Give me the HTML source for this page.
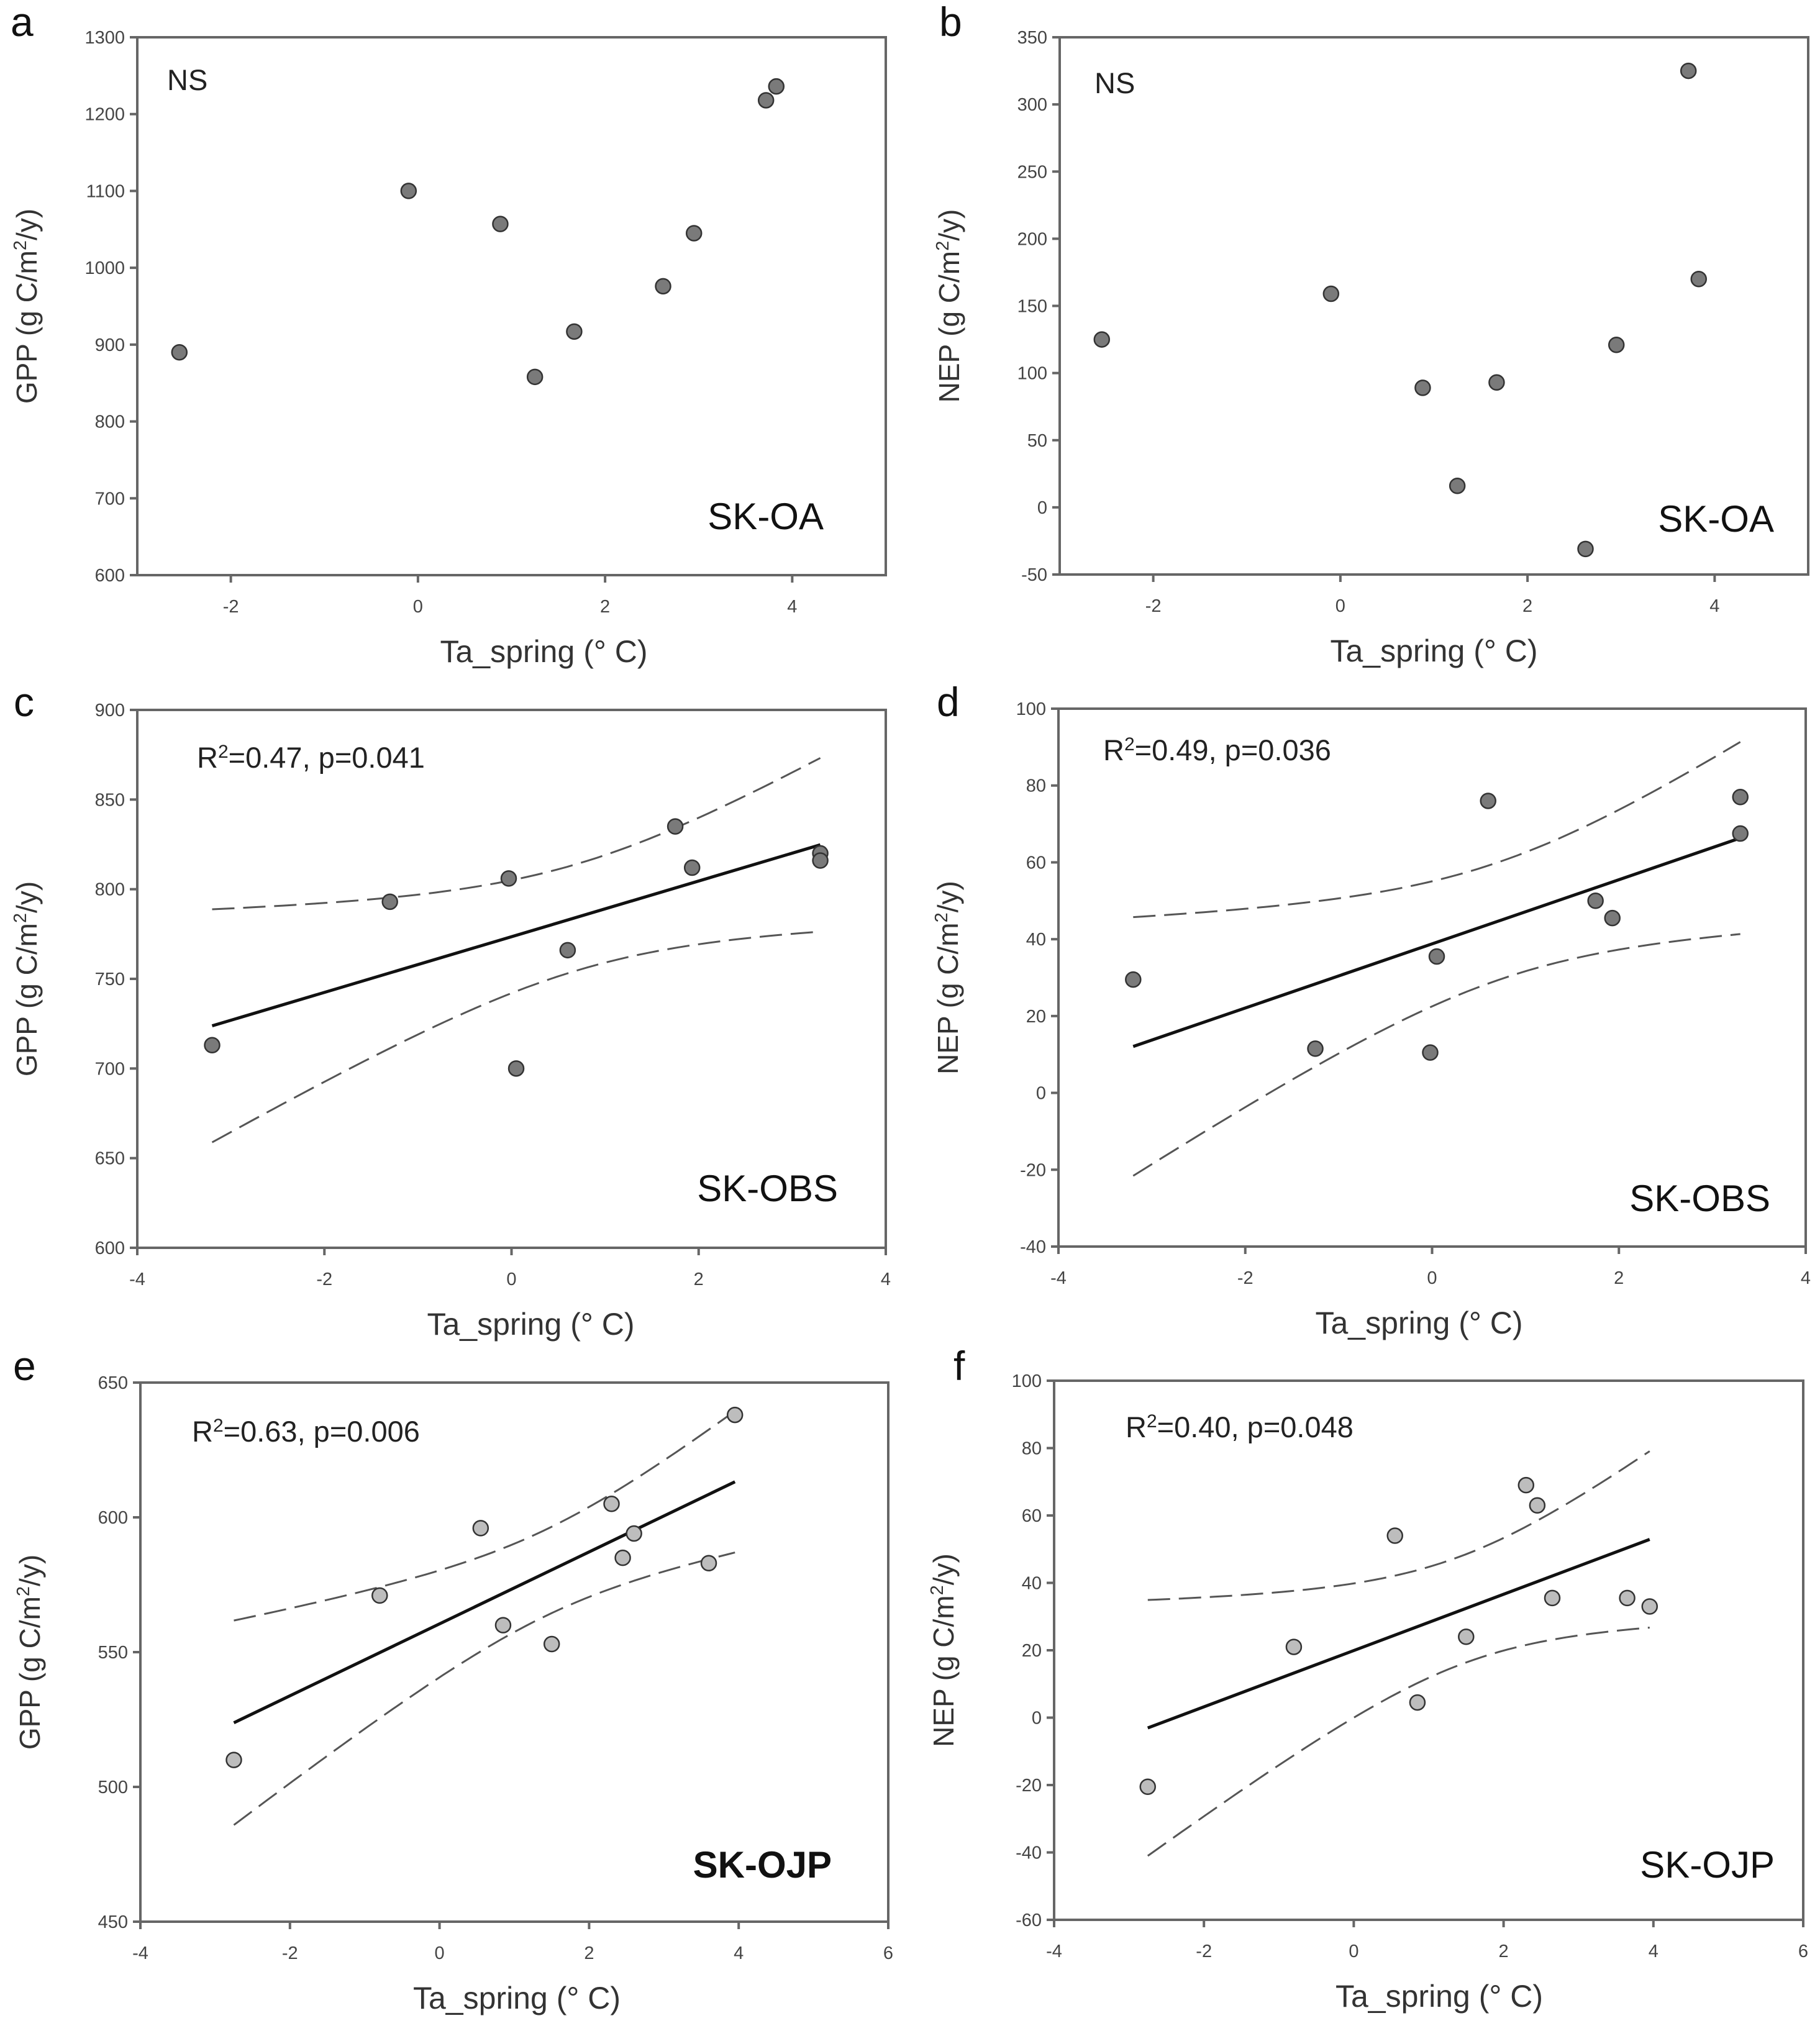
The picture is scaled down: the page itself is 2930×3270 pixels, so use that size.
<!DOCTYPE html>
<html><head><meta charset="utf-8"><style>
html,body{margin:0;padding:0;background:#fff;}
svg{display:block;font-family:"Liberation Sans",Arial,sans-serif;}
</style></head><body>
<svg id="fig" width="2930" height="3270" viewBox="0 0 2930 3270" xmlns="http://www.w3.org/2000/svg"></svg>
<script>
// ---- data ----
const xA = [-2.55,-0.1,0.88,1.25,1.67,2.62,2.95,3.72,3.83];
const gppA = [890,1100,1057,858,917,976,1045,1218,1236];
const xB = [-2.55,-0.1,0.88,1.25,1.67,2.62,2.95,3.72,3.83];
const nepB = [125,159,89,16,93,-31,121,325,170];
const xC = [-3.2,-1.3,-0.03,0.05,0.6,1.75,1.93,3.3,3.3];
const gppC = [713,793,806,700,766,835,812,820,816];
const xD = [-3.2,-1.25,-0.02,0.05,0.6,1.75,1.93,3.3,3.3];
const nepD = [29.5,11.5,10.5,35.5,76,50,45.5,77,67.5];
const xE = [-2.75,-0.8,0.55,0.85,1.5,2.3,2.45,2.6,3.6,3.95];
const gppE = [510,571,596,560,553,605,585,594,583,638];
const xF = [-2.75,-0.8,0.55,0.85,1.5,2.3,2.45,2.65,3.65,3.95];
const nepF = [-20.5,21,54,4.5,24,69,63,35.5,35.5,33];
const xTicksAB = [-2,0,2,4];
const xTicksCD = [-4,-2,0,2,4];
const xTicksEF = [-4,-2,0,2,4,6];
const yTicksA = [600,700,800,900,1000,1100,1200,1300];
const yTicksB = [-50,0,50,100,150,200,250,300,350];
const yTicksC = [600,650,700,750,800,850,900];
const yTicksD = [-40,-20,0,20,40,60,80,100];
const yTicksE = [450,500,550,600,650];
const yTicksF = [-60,-40,-20,0,20,40,60,80,100];

const NS='http://www.w3.org/2000/svg';
const svg=document.getElementById('fig');
function mk(tag,attrs,parent){const e=document.createElementNS(NS,tag);for(const k in attrs)e.setAttribute(k,attrs[k]);(parent||svg).appendChild(e);return e;}

const panels=[
 {id:'a',L:221,T:60,R:1426,B:926,x0:-3,x1:5,y0:600,y1:1300,xs:xA,ys:gppA,xt:xTicksAB,yt:yTicksA,yl:'GPP',fill:'#7a7a7a',fit:false,
  note:'NS',nx:269,ny:145,site:'SK-OA',sx:1326,sy:852,lx:17,ly:58,xo:52},
 {id:'b',L:1706,T:60,R:2911,B:925,x0:-3,x1:5,y0:-50,y1:350,xs:xB,ys:nepB,xt:xTicksAB,yt:yTicksB,yl:'NEP',fill:'#7a7a7a',fit:false,
  note:'NS',nx:1762,ny:150,site:'SK-OA',sx:2856,sy:856,lx:1512,ly:58,xo:0},
 {id:'c',L:221,T:1143,R:1426,B:2009,x0:-4,x1:4,y0:600,y1:900,xs:xC,ys:gppC,xt:xTicksCD,yt:yTicksC,yl:'GPP',fill:'#7a7a7a',fit:true,
  r2:'0.47',p:'0.041',nx:317,ny:1236,site:'SK-OBS',sx:1349,sy:1934,lx:22,ly:1153,xo:31},
 {id:'d',L:1704,T:1141,R:2907,B:2007,x0:-4,x1:4,y0:-40,y1:100,xs:xD,ys:nepD,xt:xTicksCD,yt:yTicksD,yl:'NEP',fill:'#7a7a7a',fit:true,
  r2:'0.49',p:'0.036',nx:1776,ny:1224,site:'SK-OBS',sx:2850,sy:1950,lx:1508,ly:1153,xo:-21},
 {id:'e',L:226,T:2226,R:1430,B:3094,x0:-4,x1:6,y0:450,y1:650,xs:xE,ys:gppE,xt:xTicksEF,yt:yTicksE,yl:'GPP',fill:'#bdbdbd',fit:true,
  r2:'0.63',p:'0.006',nx:309,ny:2321,site:'SK-OJP',sx:1339,sy:3023,lx:21,ly:2222,bold:true,xo:4},
 {id:'f',L:1697,T:2223,R:2903,B:3091,x0:-4,x1:6,y0:-60,y1:100,xs:xF,ys:nepF,xt:xTicksEF,yt:yTicksF,yl:'NEP',fill:'#bdbdbd',fit:true,
  r2:'0.40',p:'0.048',nx:1812,ny:2314,site:'SK-OJP',sx:2857,sy:3023,lx:1535,ly:2222,xo:17}
];

panels.forEach(P=>{
 const g=mk('g',{});
 
 
 const sx=v=>P.L+(v-P.x0)/(P.x1-P.x0)*(P.R-P.L);
 const sy=v=>P.B-(v-P.y0)/(P.y1-P.y0)*(P.B-P.T);
 const fr=mk('rect',{x:P.L,y:P.T,width:P.R-P.L,height:P.B-P.T,fill:'none',stroke:'#666','stroke-width':4},g);
 
 
 P.xt.forEach(v=>{
  const x=sx(v);
  mk('line',{x1:x,y1:P.B,x2:x,y2:P.B+12,stroke:'#666','stroke-width':4},g);
  const t=mk('text',{x:x,y:P.B+60,'font-size':29,fill:'#444','text-anchor':'middle'},g);
  t.textContent=v;
  
  
 });
 P.yt.forEach(v=>{
  const y=sy(v);
  mk('line',{x1:P.L-12,y1:y,x2:P.L,y2:y,stroke:'#666','stroke-width':4},g);
  const t=mk('text',{x:P.L-20,y:y+10,'font-size':29,fill:'#444','text-anchor':'end'},g);
  t.textContent=v;
  
  
 });
 const xt=mk('text',{x:(P.L+P.R)/2+P.xo,y:P.B+140,'font-size':50,fill:'#333','text-anchor':'middle'},g);
 xt.textContent='Ta_spring (°  C)';
 
 
 const cy=(P.T+P.B)/2, cxp=P.L-162;
 const yt=mk('text',{x:cxp,y:cy,'font-size':46,fill:'#333','text-anchor':'middle',transform:`rotate(-90 ${cxp} ${cy})`},g);
 yt.innerHTML=P.yl+' (g C/m<tspan dy="-17" font-size="29">2</tspan><tspan dy="17">/y)</tspan>';
 
 
 const lt=mk('text',{x:P.lx,y:P.ly,'font-size':66,fill:'#111'},g);
 lt.textContent=P.id;
 
 
 const st=mk('text',{x:P.sx,y:P.sy,'font-size':60,fill:'#111','text-anchor':'end','font-weight':P.bold?'bold':'normal'},g);
 st.textContent=P.site;
 
 
 const nt=mk('text',{x:P.nx,y:P.ny,'font-size':47,fill:'#222'},g);
 if(P.fit){nt.innerHTML='R<tspan dy="-16" font-size="30">2</tspan><tspan dy="16">='+P.r2+', p='+P.p+'</tspan>';}
 else nt.textContent=P.note;
 
 
 if(P.fit){
  const n=P.xs.length;
  const mx=P.xs.reduce((a,b)=>a+b,0)/n, my=P.ys.reduce((a,b)=>a+b,0)/n;
  let sxx=0,sxy=0;P.xs.forEach((x,i)=>{sxx+=(x-mx)**2;sxy+=(x-mx)*(P.ys[i]-my);});
  const b=sxy/sxx,a=my-b*mx;
  let sse=0;P.xs.forEach((x,i)=>{sse+=(P.ys[i]-a-b*x)**2;});
  const s=Math.sqrt(sse/(n-2));
  const tval=n===9?2.365:2.306;
  const xmin=Math.min(...P.xs),xmax=Math.max(...P.xs);
  const ln=mk('line',{x1:sx(xmin),y1:sy(a+b*xmin),x2:sx(xmax),y2:sy(a+b*xmax),stroke:'#111','stroke-width':5},g);
  
  
  [1,-1].forEach(sg=>{
   let d='';
   for(let k=0;k<=60;k++){const x=xmin+(xmax-xmin)*k/60;const h=tval*s*Math.sqrt(1/n+(x-mx)**2/sxx);
    d+=(k?'L':'M')+sx(x).toFixed(1)+' '+sy(a+b*x+sg*h).toFixed(1);}
   const cb=mk('path',{d:d,fill:'none',stroke:'#555','stroke-width':3,'stroke-dasharray':'36 14'},g);
   
   
  });
 }
 P.xs.forEach((x,i)=>{
  const c=mk('circle',{cx:sx(x),cy:sy(P.ys[i]),r:12,fill:P.fill,stroke:'#333','stroke-width':2.5},g);
  
  
 });
});
</script>
</body></html>
